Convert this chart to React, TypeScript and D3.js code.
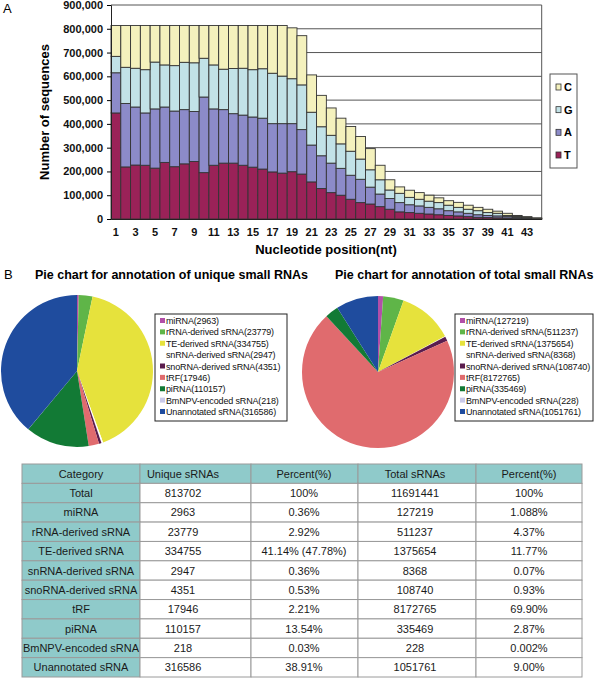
import React, { useEffect, useRef } from 'react';
import * as d3 from 'd3';

// Panel A: nucleotide composition per position
const positions = [1, 2, 3, 4, 5, 6, 7, 8, 9, 10, 11, 12, 13, 14, 15, 16, 17, 18, 19, 20, 21, 22, 23, 24, 25, 26, 27, 28, 29, 30, 31, 32, 33, 34, 35, 36, 37, 38, 39, 40, 41, 42, 43, 44];
const countT = [446000, 219000, 227000, 226000, 214000, 238000, 220000, 232000, 242000, 195000, 226000, 235000, 235000, 226000, 218000, 210000, 198000, 193000, 199000, 189000, 156000, 128000, 111000, 100000, 83000, 69000, 63000, 52000, 41000, 30000, 27000, 24000, 21000, 18000, 15000, 13000, 10000, 7000, 6000, 5000, 4000, 3000, 2000, 1000];
const countA = [169000, 267000, 244000, 220000, 249000, 233000, 234000, 228000, 210000, 318000, 237000, 225000, 208000, 211000, 211000, 214000, 203000, 208000, 202000, 187000, 155000, 138000, 124000, 113000, 101000, 98000, 71000, 53000, 45000, 39000, 33000, 31000, 28000, 25000, 20000, 17000, 14000, 11000, 9000, 8000, 6000, 4000, 2000, 1000];
const countG = [69000, 152000, 163000, 182000, 197000, 177000, 191000, 199000, 205000, 163000, 185000, 170000, 190000, 197000, 199000, 208000, 212000, 200000, 189000, 188000, 138000, 122000, 117000, 103000, 101000, 85000, 73000, 60000, 36000, 39000, 31000, 28000, 26000, 26000, 23000, 19000, 17000, 17000, 12000, 11000, 5000, 4000, 3000, 1000];
const countC = [130000, 176000, 180000, 186000, 154000, 166000, 169000, 155000, 157000, 138000, 166000, 184000, 181000, 180000, 186000, 182000, 201000, 213000, 214000, 207000, 157000, 132000, 115000, 108000, 104000, 95000, 89000, 61000, 43000, 27000, 30000, 28000, 25000, 20000, 19000, 21000, 17000, 14000, 14000, 9000, 9000, 4000, 3000, 2000];
const baseKeys = ['T', 'A', 'G', 'C'];
const baseColors = { T: '#9a2258', A: '#8c8bc9', G: '#c2e2e7', C: '#f4f1bd' };
const xTickLabels = [1, 3, 5, 7, 9, 11, 13, 15, 17, 19, 21, 23, 25, 27, 29, 31, 33, 35, 37, 39, 41, 43];

// Panel B: annotation
const categories = ['miRNA', 'rRNA-derived sRNA', 'TE-derived sRNA', 'snRNA-derived sRNA', 'snoRNA-derived sRNA', 'tRF', 'piRNA', 'BmNPV-encoded sRNA', 'Unannotated sRNA'];
const uniqueCounts = [2963, 23779, 334755, 2947, 4351, 17946, 110157, 218, 316586];
const totalCounts = [127219, 511237, 1375654, 8368, 108740, 8172765, 335469, 228, 1051761];
const uniquePercent = ['0.36%', '2.92%', '41.14% (47.78%)', '0.36%', '0.53%', '2.21%', '13.54%', '0.03%', '38.91%'];
const totalPercent = ['1.088%', '4.37%', '11.77%', '0.07%', '0.93%', '69.90%', '2.87%', '0.002%', '9.00%'];
const sliceColors = ['#b24fa8', '#5fb548', '#e6e23c', '#ffffff', '#5a1d4e', '#e06b6e', '#127a35', '#cacaea', '#1f4c9e'];
const tableHeader = ['Category', 'Unique sRNAs', 'Percent(%)', 'Total sRNAs', 'Percent(%)'];
const totalRow = ['Total', '813702', '100%', '11691441', '100%'];

const FONT = 'Liberation Sans, Arial, sans-serif';

export default function App() {
  const svgRef = useRef<SVGSVGElement>(null);

  useEffect(() => {
    const svg = d3.select(svgRef.current);
    svg.selectAll('*').remove();
    svg.attr('font-family', FONT);

    // ---------- Panel A ----------
    const left = 111, right = 541.7, top = 5, bottom = 219;
    const x = d3.scaleBand<number>().domain(positions).range([left, right]).padding(0);
    const y = d3.scaleLinear().domain([0, 900000]).range([bottom, top]);

    const rows = positions.map((p, i) => ({ pos: p, T: countT[i], A: countA[i], G: countG[i], C: countC[i] }));
    const stacked = d3.stack<any>().keys(baseKeys)(rows);

    svg.append('text').attr('x', 3).attr('y', 13).attr('font-size', 13).text('A');

    // grid
    svg.append('g').selectAll('line').data(y.ticks(9).filter((t) => t > 0)).enter().append('line')
      .attr('x1', left).attr('x2', right).attr('y1', (d) => y(d)).attr('y2', (d) => y(d))
      .attr('stroke', '#555').attr('stroke-width', 1);
    svg.append('line').attr('x1', right).attr('x2', right).attr('y1', top).attr('y2', bottom)
      .attr('stroke', '#555');

    // bars
    svg.append('g').selectAll('g').data(stacked).enter().append('g')
      .attr('fill', (s) => (baseColors as any)[s.key])
      .selectAll('rect').data((s) => s).enter().append('rect')
      .attr('x', (d) => x(d.data.pos) as number)
      .attr('width', x.bandwidth())
      .attr('y', (d) => y(d[1]))
      .attr('height', (d) => y(d[0]) - y(d[1]))
      .attr('stroke', '#333').attr('stroke-width', 0.9);

    const yAxis = svg.append('g').attr('transform', `translate(${left},0)`)
      .call(d3.axisLeft(y).ticks(9).tickFormat(d3.format(',') as any).tickSize(4).tickPadding(4));
    yAxis.selectAll('text').attr('font-family', FONT).attr('font-size', 11).attr('font-weight', 'bold').attr('fill', '#111');
    yAxis.select('.domain').attr('stroke', '#222');

    const xAxis = svg.append('g').attr('transform', `translate(0,${bottom})`)
      .call(d3.axisBottom(x).tickValues(xTickLabels).tickSize(0).tickPadding(9));
    xAxis.selectAll('text').attr('font-family', FONT).attr('font-size', 11).attr('font-weight', 'bold').attr('fill', '#111');
    xAxis.select('.domain').attr('stroke', '#222');

    svg.append('text').attr('transform', 'translate(49,112) rotate(-90)').attr('text-anchor', 'middle')
      .attr('font-size', 13).attr('font-weight', 'bold').text('Number of sequences');
    svg.append('text').attr('x', 326).attr('y', 254).attr('text-anchor', 'middle')
      .attr('font-size', 13).attr('font-weight', 'bold').text('Nucleotide position(nt)');

    // legend A
    const legA = svg.append('g');
    legA.append('rect').attr('x', 550).attr('y', 74).attr('width', 27).attr('height', 94)
      .attr('fill', '#fff').attr('stroke', '#555');
    const legKeys = ['C', 'G', 'A', 'T'];
    const legY = d3.scalePoint().domain(legKeys).range([87, 155]);
    legKeys.forEach((k) => {
      legA.append('rect').attr('x', 556).attr('y', (legY(k) as number) - 3).attr('width', 5).attr('height', 6)
        .attr('fill', (baseColors as any)[k]).attr('stroke', '#333').attr('stroke-width', 0.8);
      legA.append('text').attr('x', 564).attr('y', (legY(k) as number) + 4).attr('font-size', 11)
        .attr('font-weight', 'bold').text(k);
    });

    // ---------- Panel B ----------
    svg.append('text').attr('x', 4).attr('y', 279).attr('font-size', 13).text('B');
    svg.append('text').attr('x', 35).attr('y', 279).attr('font-size', 12.5).attr('font-weight', 'bold')
      .text('Pie chart for annotation of unique small RNAs');
    svg.append('text').attr('x', 335).attr('y', 279).attr('font-size', 12.5).attr('font-weight', 'bold')
      .text('Pie chart for annotation of total small RNAs');

    const pie = d3.pie<number>().sort(null).value((d) => d);
    const arc = d3.arc<any>().innerRadius(0).outerRadius(76);

    const drawPie = (values: number[], cx: number, cy: number, lx: number, ly: number, lw: number) => {
      const g = svg.append('g').attr('transform', `translate(${cx},${cy})`);
      g.selectAll('path').data(pie(values)).enter().append('path')
        .attr('d', arc).attr('fill', (d, i) => sliceColors[i]);

      const leg = svg.append('g');
      leg.append('rect').attr('x', lx).attr('y', ly).attr('width', lw).attr('height', 107)
        .attr('fill', '#fff').attr('stroke', '#222').attr('stroke-width', 1);
      const ry = d3.scalePoint<number>().domain(d3.range(categories.length)).range([ly + 7, ly + 98]);
      categories.forEach((c, i) => {
        const yy = ry(i) as number;
        if (sliceColors[i] !== '#ffffff') {
          leg.append('rect').attr('x', lx + 5).attr('y', yy - 3).attr('width', 5).attr('height', 5)
            .attr('fill', sliceColors[i]);
        }
        leg.append('text').attr('x', lx + 11).attr('y', yy + 3).attr('font-size', 9)
          .attr('letter-spacing', -0.15).attr('fill', '#111')
          .text(`${c}(${values[i]})`);
      });
    };
    drawPie(uniqueCounts, 77, 371, 155, 314, 132);
    drawPie(totalCounts, 378, 372, 455, 314, 138);

    // table
    const colEdges = [22, 140, 251, 358, 476, 582];
    const colCenters = [81, 183, 304, 415, 529];
    const tableRows = [tableHeader, totalRow, ...categories.map((c, i) => [
      c, String(uniqueCounts[i]), uniquePercent[i], String(totalCounts[i]), totalPercent[i],
    ])];
    const rowScale = d3.scaleBand<number>().domain(d3.range(tableRows.length)).range([464, 677]);
    const tbl = svg.append('g');
    tableRows.forEach((row, r) => {
      const ry = rowScale(r) as number;
      row.forEach((cell, c) => {
        tbl.append('rect').attr('x', colEdges[c]).attr('y', ry)
          .attr('width', colEdges[c + 1] - colEdges[c]).attr('height', rowScale.bandwidth())
          .attr('fill', r === 0 || c === 0 ? '#8fcaca' : '#fff')
          .attr('stroke', '#9a9a9a').attr('stroke-width', 1);
        tbl.append('text').attr('x', colCenters[c]).attr('y', ry + rowScale.bandwidth() / 2 + 4)
          .attr('text-anchor', 'middle').attr('font-size', 11).attr('fill', '#1a1a1a').text(cell);
      });
    });
  }, []);

  return (
    <svg ref={svgRef} width={600} height={679}
      style={{ position: 'absolute', left: 0, top: 0, background: '#fff' }} />
  );
}
